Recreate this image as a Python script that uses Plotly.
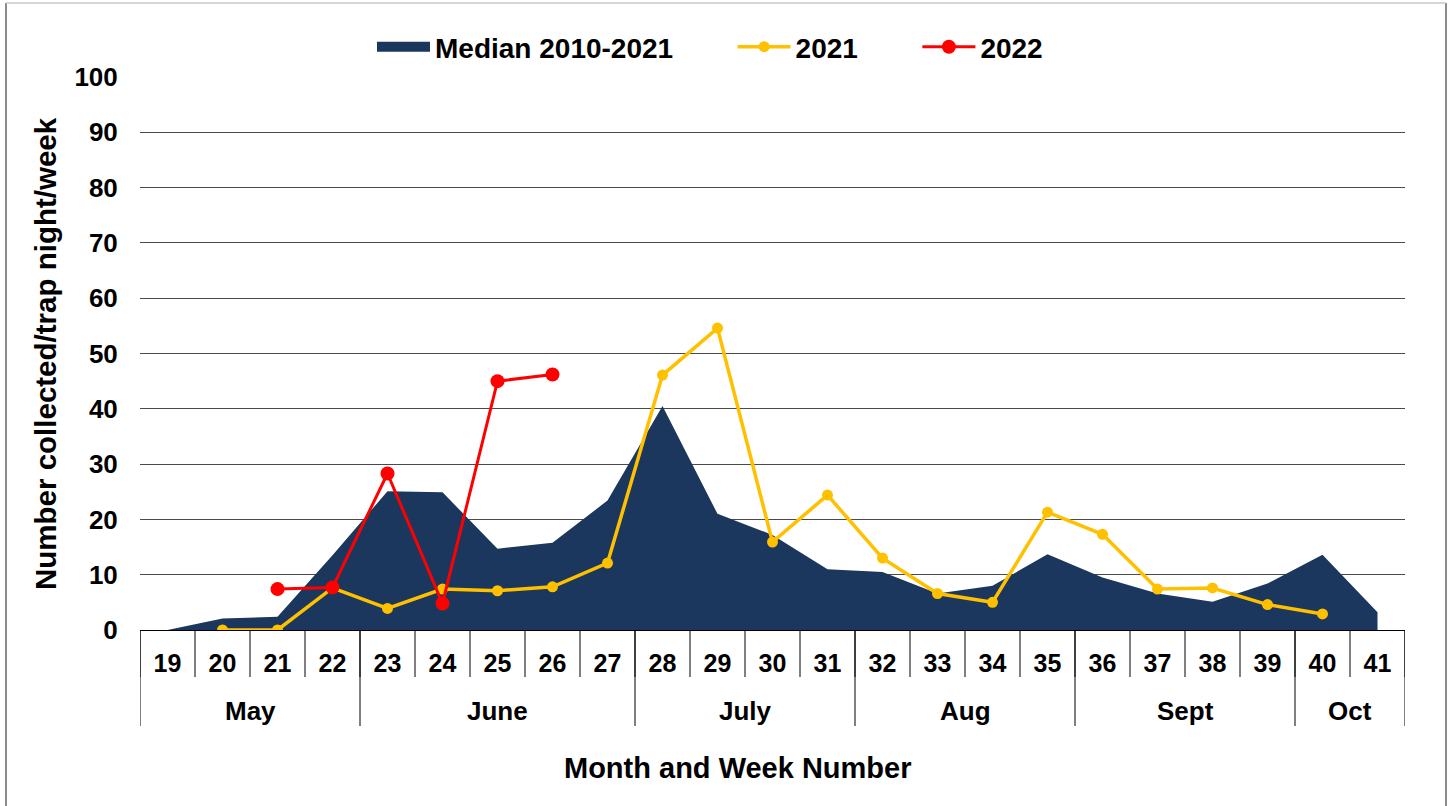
import plotly.graph_objects as go

weeks = list(range(19, 42))
week_labels = [str(w) for w in weeks]

median_2010_2021 = [0, 2.1, 2.4, 13.5, 25.1, 24.9, 14.7, 15.8, 23.4, 40.5, 21.0, 17.2,
                    11.0, 10.5, 6.6, 8.0, 13.7, 9.5, 6.6, 5.1, 8.4, 13.6, 3.2]
y2021 = [None, 0, 0, 7.6, 3.9, 7.4, 7.1, 7.8, 12.1, 46.1, 54.6, 15.9,
         24.4, 13.0, 6.6, 5.0, 21.3, 17.3, 7.4, 7.6, 4.6, 2.9, None]
y2022 = [None, None, 7.4, 7.7, 28.3, 4.8, 45.0, 46.2] + [None] * 15

months = ["May", "June", "July", "Aug", "Sept", "Oct"]
month_first_week = [19, 23, 28, 32, 36, 40]
month_last_week = [22, 27, 31, 35, 39, 41]

NAVY = "#1B375D"
YELLOW = "#FFC000"
RED = "#FF0000"
BOLD = "Liberation Sans, Arial, sans-serif"
PAD = "\u00a0" * 7

fig = go.Figure()
fig.add_trace(go.Scatter(
    x=weeks, y=median_2010_2021, name="Median 2010-2021",
    mode="lines", fill="tozeroy", fillcolor=NAVY, showlegend=False,
    line=dict(width=0, color=NAVY), hoverinfo="skip"))
# legend entry for the median area (thick swatch)
fig.add_trace(go.Scatter(
    x=[None], y=[None], name="<b>Median 2010-2021</b>" + PAD,
    mode="lines", line=dict(width=14, color=NAVY), hoverinfo="skip"))
fig.add_trace(go.Scatter(
    x=weeks, y=y2021, name="<b>2021</b>" + PAD, mode="lines+markers",
    line=dict(color=YELLOW, width=3.5), marker=dict(color=YELLOW, size=11),
    connectgaps=False, hoverinfo="skip"))
fig.add_trace(go.Scatter(
    x=weeks, y=y2022, name="<b>2022</b>", mode="lines+markers",
    line=dict(color=RED, width=3), marker=dict(color=RED, size=14),
    connectgaps=False, hoverinfo="skip"))

shapes = []
# week separators
for i in range(len(weeks) + 1):
    xb = weeks[0] - 0.5 + i
    shapes.append(dict(type="line", xref="x", yref="paper", x0=xb, x1=xb,
                       y0=0, y1=-47 / 553, line=dict(color="black", width=1)))
# month separators
bounds = [month_first_week[0] - 0.5] + [w + 0.5 for w in month_last_week]
for xb in bounds:
    shapes.append(dict(type="line", xref="x", yref="paper", x0=xb, x1=xb,
                       y0=0, y1=-96 / 553, line=dict(color="black", width=1)))
# outer frame
shapes.append(dict(type="line", xref="paper", yref="paper", x0=-134 / 1265, x1=-134 / 1265,
                   y0=1.1338, y1=-0.33, line=dict(color="#8a8a8a", width=2)))
shapes.append(dict(type="line", xref="paper", yref="paper", x0=1306 / 1265, x1=1306 / 1265,
                   y0=1.1338, y1=-0.33, line=dict(color="#8a8a8a", width=2)))
shapes.append(dict(type="line", xref="paper", yref="paper", x0=-134 / 1265, x1=1306 / 1265,
                   y0=1.1338, y1=1.1338, line=dict(color="#c8c8c8", width=1.5)))

annotations = []
for m, a, b in zip(months, month_first_week, month_last_week):
    annotations.append(dict(x=(a + b) / 2, y=(630 - 711) / 553, xref="x", yref="paper",
                            text=f"<b>{m}</b>", showarrow=False,
                            font=dict(family=BOLD, size=26, color="black"),
                            xanchor="center", yanchor="middle"))
annotations.append(dict(x=(738 - 140) / 1265, y=(630 - 768) / 553, xref="paper", yref="paper",
                        text="<b>Month and Week Number</b>", showarrow=False,
                        font=dict(family=BOLD, size=29, color="black"),
                        xanchor="center", yanchor="middle"))
annotations.append(dict(x=(45 - 140) / 1265, y=(630 - 354) / 553, xref="paper", yref="paper",
                        text="<b>Number collected/trap night/week</b>", showarrow=False,
                        textangle=-90,
                        font=dict(family=BOLD, size=29.5, color="black"),
                        xanchor="center", yanchor="middle"))

fig.update_layout(
    width=1449, height=806,
    margin=dict(l=140, r=44, t=77, b=176),
    paper_bgcolor="white", plot_bgcolor="white",
    showlegend=True,
    legend=dict(orientation="h", x=(710 - 140) / 1265, xanchor="center",
                y=(630 - 47) / 553, yanchor="middle", itemwidth=53,
                font=dict(family=BOLD, size=28, color="black"),
                bgcolor="rgba(0,0,0,0)"),
    xaxis=dict(range=[weeks[0] - 0.5, weeks[-1] + 0.5], tickmode="array",
               tickvals=weeks, ticktext=[f"<b>{t}</b>" for t in week_labels],
               tickfont=dict(family=BOLD, size=25, color="black"),
               ticks="outside", ticklen=11, tickcolor="rgba(0,0,0,0)",
               showgrid=False, zeroline=False, showline=True,
               linecolor="black", linewidth=1, fixedrange=True),
    yaxis=dict(range=[0, 100], tickmode="array",
               tickvals=list(range(0, 101, 10)),
               ticktext=[f"<b>{v}</b>" for v in range(0, 101, 10)],
               tickfont=dict(family=BOLD, size=26, color="black"),
               ticks="outside", ticklen=16, tickcolor="rgba(0,0,0,0)",
               showgrid=True, gridcolor="#4a4a4a", gridwidth=1,
               zeroline=False, showline=False, fixedrange=True),
    shapes=shapes, annotations=annotations,
)

fig.write_html("out.html", config={"displayModeBar": False},
               post_script="document.body.style.margin='0';")
